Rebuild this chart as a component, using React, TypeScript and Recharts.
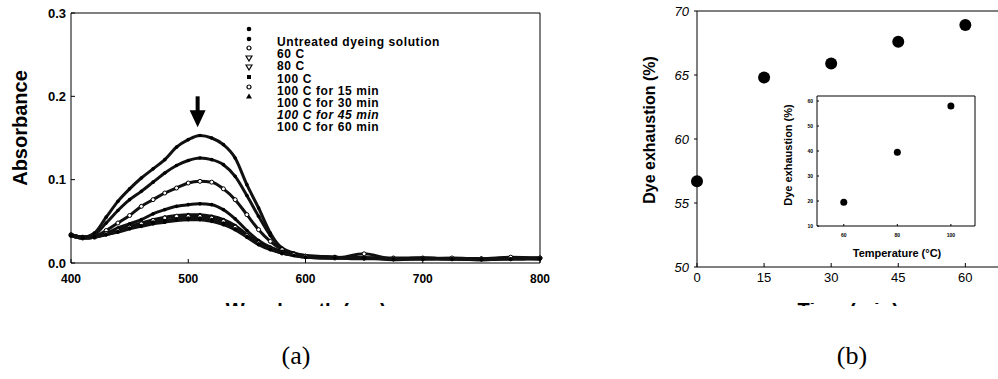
import React from "react";
import {
  LineChart,
  Line,
  ScatterChart,
  Scatter,
  XAxis,
  YAxis,
  ReferenceLine,
  ReferenceDot,
} from "recharts";

const FONT = '"Liberation Sans", Arial, sans-serif';

// (a) absorbance spectra
const WAVELENGTH = [400, 410, 420, 430, 440, 450, 460, 470, 480, 490, 500, 510, 520, 530, 540, 550, 560, 570, 580, 590, 600, 625, 650, 675, 700, 725, 750, 775, 800];
const UNTREATED = [0.034, 0.031, 0.036, 0.055, 0.074, 0.089, 0.102, 0.113, 0.124, 0.139, 0.148, 0.153, 0.150, 0.142, 0.126, 0.094, 0.066, 0.036, 0.017, 0.011, 0.009, 0.007, 0.006, 0.005, 0.006, 0.005, 0.005, 0.006, 0.005];
const C60 = [0.034, 0.031, 0.034, 0.048, 0.063, 0.076, 0.086, 0.097, 0.108, 0.117, 0.123, 0.126, 0.124, 0.118, 0.104, 0.081, 0.056, 0.033, 0.018, 0.012, 0.009, 0.007, 0.006, 0.005, 0.005, 0.005, 0.005, 0.005, 0.005];
const C80 = [0.034, 0.031, 0.032, 0.039, 0.048, 0.057, 0.068, 0.076, 0.084, 0.090, 0.096, 0.098, 0.097, 0.089, 0.076, 0.058, 0.040, 0.026, 0.016, 0.011, 0.008, 0.007, 0.006, 0.006, 0.006, 0.005, 0.005, 0.005, 0.006];
const C100 = [0.034, 0.031, 0.032, 0.036, 0.042, 0.047, 0.052, 0.059, 0.064, 0.068, 0.070, 0.071, 0.070, 0.064, 0.053, 0.039, 0.027, 0.019, 0.014, 0.011, 0.008, 0.007, 0.006, 0.005, 0.005, 0.005, 0.005, 0.006, 0.005];
const MIN15 = [0.034, 0.031, 0.032, 0.036, 0.040, 0.044, 0.048, 0.052, 0.055, 0.057, 0.058, 0.058, 0.056, 0.052, 0.045, 0.034, 0.025, 0.018, 0.013, 0.010, 0.008, 0.006, 0.005, 0.005, 0.006, 0.005, 0.004, 0.005, 0.005];
const MIN30 = [0.033, 0.030, 0.031, 0.035, 0.039, 0.043, 0.047, 0.051, 0.054, 0.056, 0.056, 0.056, 0.054, 0.050, 0.043, 0.033, 0.024, 0.017, 0.012, 0.010, 0.008, 0.006, 0.011, 0.005, 0.005, 0.006, 0.005, 0.007, 0.006];
const MIN45 = [0.033, 0.030, 0.031, 0.034, 0.038, 0.042, 0.045, 0.049, 0.051, 0.053, 0.054, 0.054, 0.052, 0.048, 0.041, 0.032, 0.023, 0.017, 0.012, 0.009, 0.007, 0.006, 0.006, 0.005, 0.005, 0.005, 0.005, 0.005, 0.006];
const MIN60 = [0.033, 0.030, 0.031, 0.034, 0.037, 0.041, 0.044, 0.047, 0.049, 0.051, 0.052, 0.052, 0.050, 0.046, 0.040, 0.031, 0.022, 0.016, 0.012, 0.009, 0.007, 0.006, 0.006, 0.004, 0.005, 0.005, 0.004, 0.005, 0.005];
const ABS_TICKS = [0, 0.1, 0.2, 0.3];
const WL_TICKS = [400, 500, 600, 700, 800];

const LEGEND_LABELS = [
  "Untreated dyeing solution",
  "60 C",
  "80 C",
  "100 C",
  "100 C for 15 min",
  "100 C for 30 min",
  "100 C for 45 min",
  "100 C for 60 min",
];
const LEGEND_MARKS = ["dot", "dot", "ring", "tri-down", "tri-down", "square", "ring", "tri-up"];

// (b) exhaustion vs time, inset vs temperature
const TIME = [0, 15, 30, 45, 60];
const EXHAUSTION = [56.7, 64.8, 65.9, 67.6, 68.9];
const TIME_TICKS = [0, 15, 30, 45, 60];
const EXH_TICKS = [50, 55, 60, 65, 70];
const TEMP = [60, 80, 100];
const TEMP_EXHAUSTION = [19.5, 39.5, 58];
const TEMP_TICKS = [60, 80, 100];
const INSET_TICKS = [10, 20, 30, 40, 50, 60];

const SERIES = [
  { key: "u", values: UNTREATED, hollow: false },
  { key: "c60", values: C60, hollow: false },
  { key: "c80", values: C80, hollow: true },
  { key: "c100", values: C100, hollow: false },
  { key: "m15", values: MIN15, hollow: false },
  { key: "m30", values: MIN30, hollow: true },
  { key: "m45", values: MIN45, hollow: false },
  { key: "m60", values: MIN60, hollow: false },
];

const spectra = WAVELENGTH.map((wl, i) => {
  const row: Record<string, number> = { wl };
  SERIES.forEach((s) => (row[s.key] = s.values[i]));
  return row;
});
const timeData = TIME.map((t, i) => ({ t, e: EXHAUSTION[i] }));
const tempData = TEMP.map((t, i) => ({ t, e: TEMP_EXHAUSTION[i] }));

const Arrow = ({ cx, cy }: any) => (
  <g>
    <rect x={cx - 2} y={cy} width={4} height={17} fill="#000" />
    <polygon points={`${cx - 8},${cy + 14} ${cx + 8},${cy + 14} ${cx},${cy + 31}`} fill="#000" />
  </g>
);

const BigDot = ({ cx, cy }: any) => <circle cx={cx} cy={cy} r={6} fill="#000" />;
const SmallDot = ({ cx, cy }: any) => <circle cx={cx} cy={cy} r={3.5} fill="#000" />;

function Mark({ kind }: { kind: string }) {
  return (
    <svg width={8} height={8} style={{ display: "block" }}>
      {kind === "dot" && <circle cx={4} cy={4} r={2.3} fill="#000" />}
      {kind === "ring" && <circle cx={4} cy={4} r={2} fill="#fff" stroke="#000" strokeWidth={1.2} />}
      {kind === "tri-down" && <polygon points="1,2 7,2 4,7" fill="#fff" stroke="#000" strokeWidth={1.2} />}
      {kind === "tri-up" && <polygon points="1,6.5 7,6.5 4,1.5" fill="#000" />}
      {kind === "square" && <rect x={2} y={2} width={4} height={4} fill="#000" />}
    </svg>
  );
}

const rotated = (left: number, top: number, size: number): React.CSSProperties => ({
  position: "absolute",
  left,
  top,
  transform: "translate(-50%, -50%) rotate(-90deg)",
  whiteSpace: "nowrap",
  fontFamily: FONT,
  fontWeight: 700,
  fontSize: size,
  lineHeight: 1,
});

// axis titles that the scan cuts off: only the tops of the letters show
function Clipped({ text, center, top }: { text: string; center: number; top: number }) {
  return (
    <div style={{ position: "absolute", left: center - 120, top, width: 240, height: 3, overflow: "hidden" }}>
      <div style={{ position: "absolute", top: -3, width: 240, textAlign: "center", fontFamily: FONT, fontWeight: 700, fontSize: 20, lineHeight: "20px" }}>
        {text}
      </div>
    </div>
  );
}

export default function App() {
  return (
    <div style={{ position: "absolute", left: 0, top: 0, width: 998, height: 379, background: "#fff", overflow: "hidden" }}>
      {/* (a) spectra */}
      <div style={{ position: "absolute", left: 0, top: 0 }}>
        <LineChart width={560} height={300} data={spectra} margin={{ top: 13, right: 20, left: 0, bottom: 0 }}>
          <XAxis
            dataKey="wl"
            type="number"
            domain={[400, 800]}
            ticks={WL_TICKS}
            height={37}
            stroke="#000"
            tickSize={-4}
            tickMargin={15}
            tick={{ fill: "#000", fontSize: 12, fontWeight: 700, fontFamily: FONT }}
          />
          <YAxis
            type="number"
            domain={[0, 0.3]}
            ticks={ABS_TICKS}
            width={71}
            stroke="#000"
            tickSize={-4}
            tickMargin={9}
            tickFormatter={(v: number) => v.toFixed(1)}
            tick={{ fill: "#000", fontSize: 13, fontWeight: 700, fontFamily: FONT }}
          />
          <ReferenceLine y={0.3} stroke="#000" />
          <ReferenceLine x={800} stroke="#000" />
          {SERIES.map((s) => (
            <Line
              key={s.key}
              dataKey={s.key}
              type="monotone"
              stroke="#111"
              strokeWidth={3}
              dot={s.hollow ? { r: 2, fill: "#fff", stroke: "#000", strokeWidth: 1 } : { r: 1.8, fill: "#000", stroke: "none" }}
              isAnimationActive={false}
            />
          ))}
          <ReferenceDot x={508} y={0.2} shape={Arrow} />
        </LineChart>
      </div>

      <div style={rotated(20, 128, 20)}>Absorbance</div>

      <div style={{ position: "absolute", left: 245, top: 25 }}>
        {LEGEND_MARKS.map((m, i) => (
          <div key={i} style={{ height: 9.6 }}>
            <Mark kind={m} />
          </div>
        ))}
      </div>
      <div style={{ position: "absolute", left: 277, top: 36, fontFamily: FONT, fontWeight: 700, fontSize: 12, letterSpacing: 0.6, lineHeight: "12.2px" }}>
        {LEGEND_LABELS.map((l, i) => (
          <div key={i} style={{ height: 12.2, fontStyle: i === 6 ? "italic" : "normal", whiteSpace: "nowrap" }}>
            {l}
          </div>
        ))}
      </div>

      <Clipped text="Wavelength (nm)" center={306} top={303} />

      {/* (b) exhaustion vs time */}
      <div style={{ position: "absolute", left: 560, top: 0 }}>
        <ScatterChart width={438} height={300} margin={{ top: 11, right: 0, left: 0, bottom: 0 }}>
          <XAxis
            dataKey="t"
            type="number"
            domain={[0, 67.3]}
            ticks={TIME_TICKS}
            height={33}
            stroke="#000"
            tickSize={-4}
            tickMargin={10}
            tick={{ fill: "#000", fontSize: 13, fontFamily: FONT }}
          />
          <YAxis
            dataKey="e"
            type="number"
            domain={[50, 70]}
            ticks={EXH_TICKS}
            width={137}
            stroke="#000"
            tickSize={3}
            tickMargin={5}
            tick={{ fill: "#000", fontSize: 13, fontStyle: "italic", fontFamily: FONT }}
          />
          <ReferenceLine y={70} stroke="#000" />
          <Scatter data={timeData} shape={BigDot} isAnimationActive={false} />
        </ScatterChart>
      </div>

      <div style={rotated(650, 130, 16)}>Dye exhaustion (%)</div>

      {/* inset: exhaustion vs temperature */}
      <div style={{ position: "absolute", left: 770, top: 86 }}>
        <ScatterChart width={215} height={180} margin={{ top: 10, right: 10, left: 0, bottom: 0 }}>
          <XAxis
            dataKey="t"
            type="number"
            domain={[50, 109]}
            ticks={TEMP_TICKS}
            height={40}
            stroke="#000"
            tickSize={-2}
            tickMargin={9}
            tick={{ fill: "#000", fontSize: 5, fontWeight: 700, fontFamily: FONT }}
          />
          <YAxis
            dataKey="e"
            type="number"
            domain={[10, 62]}
            ticks={INSET_TICKS}
            width={47}
            stroke="#000"
            tickSize={-2}
            tickMargin={6}
            tick={{ fill: "#000", fontSize: 5, fontWeight: 700, fontFamily: FONT }}
          />
          <ReferenceLine y={62} stroke="#000" />
          <ReferenceLine x={109} stroke="#000" />
          <Scatter data={tempData} shape={SmallDot} isAnimationActive={false} />
        </ScatterChart>
      </div>

      <div style={rotated(788, 155, 11)}>Dye exhaustion (%)</div>
      <div style={{ position: "absolute", left: 897, top: 253, transform: "translate(-50%, -50%)", whiteSpace: "nowrap", fontFamily: FONT, fontWeight: 700, fontSize: 11 }}>
        Temperature (°C)
      </div>

      <Clipped text="Time (min)" center={848} top={303} />

      <div style={{ position: "absolute", left: 296, top: 356, transform: "translate(-50%, -50%)", fontFamily: '"Liberation Serif", serif', fontSize: 26 }}>(a)</div>
      <div style={{ position: "absolute", left: 852, top: 356, transform: "translate(-50%, -50%)", fontFamily: '"Liberation Serif", serif', fontSize: 26 }}>(b)</div>
    </div>
  );
}
